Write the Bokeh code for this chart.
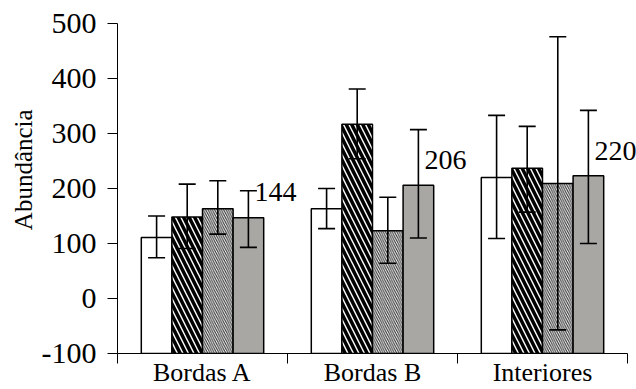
from bokeh.plotting import figure
from bokeh.models import Range1d, FixedTicker, Whisker, TeeHead, ColumnDataSource, Label
from bokeh.embed import file_html
from bokeh.resources import INLINE

categories = ["Bordas A", "Bordas B", "Interiores"]
y_ticks = [-100, 0, 100, 200, 300, 400, 500]
y_title = "Abundância"

s1_mean = [111, 163, 220]
s1_low = [74, 127, 109]
s1_high = [150, 200, 333]

s2_mean = [148, 317, 237]
s2_low = [91, 254, 157]
s2_high = [208, 381, 313]

s3_mean = [163, 123, 209]
s3_low = [117, 64, -57]
s3_high = [214, 184, 476]

s4_mean = [147, 206, 223]
s4_low = [93, 110, 100]
s4_high = [196, 307, 342]

value_labels = ["144", "206", "220"]

series = [
    (s1_mean, s1_low, s1_high, dict(fill_color="white")),
    (s2_mean, s2_low, s2_high, dict(fill_color="white", hatch_pattern="left_diagonal_line",
                                    hatch_color="black", hatch_weight=3.5, hatch_scale=11)),
    (s3_mean, s3_low, s3_high, dict(fill_color="white", hatch_pattern="left_diagonal_line",
                                    hatch_color="#333333", hatch_weight=1.1, hatch_scale=4.5)),
    (s4_mean, s4_low, s4_high, dict(fill_color="#a9a7a4")),
]
offsets = [-0.27, -0.09, 0.09, 0.27]
bar_w = 0.18
Y0, Y1 = -100, 500
NCAT = len(categories)

font = "Times New Roman, Liberation Serif, Tinos, DejaVu Serif, serif"

p = figure(width=636, height=389, output_backend="svg", toolbar_location=None,
           x_range=Range1d(0, NCAT + 0.053), y_range=Range1d(Y0, Y1),
           min_border_left=117, min_border_top=23, min_border_right=0, min_border_bottom=5)
p.background_fill_color = "white"
p.border_fill_color = "white"
p.outline_line_color = None
p.xgrid.visible = False
p.ygrid.visible = False

for (m, lo, hi, style), off in zip(series, offsets):
    xs = [i + 0.5 + off for i in range(NCAT)]
    src = ColumnDataSource(dict(x=xs, top=m, lo=lo, hi=hi))
    p.vbar(x="x", top="top", bottom=Y0, width=bar_w, source=src,
           line_color="black", line_width=1.5, **style)
    w = Whisker(base="x", lower="lo", upper="hi", source=src, dimension="height",
                line_color="black", line_width=1.6, level="overlay",
                upper_head=TeeHead(size=17, line_color="black", line_width=1.6),
                lower_head=TeeHead(size=17, line_color="black", line_width=1.6))
    p.add_layout(w)

for i, (txt, v) in enumerate(zip(value_labels, s4_mean)):
    p.add_layout(Label(x=i + 0.5 + offsets[3], y=v + 46, text=txt, x_offset=6,
                       text_align="left", text_baseline="middle",
                       text_font=font, text_font_size="28px", text_color="black"))

ya = p.yaxis[0]
ya.ticker = FixedTicker(ticks=y_ticks)
ya.major_label_overrides = {t: str(t) for t in y_ticks}
ya.major_label_text_font = font
ya.major_label_text_font_size = "30px"
ya.major_label_text_color = "black"
ya.major_tick_out = 10
ya.major_tick_in = 0
ya.minor_tick_out = 0
ya.minor_tick_in = 0
ya.major_tick_line_color = "black"
ya.axis_line_color = "black"
ya.major_label_standoff = 11
# leading no-break spaces lift the rotated title a little above the frame centre
ya.axis_label = "\u00a0" * 6 + y_title
ya.axis_label_text_font = font
ya.axis_label_text_font_size = "25px"
ya.axis_label_text_font_style = "normal"
ya.axis_label_text_color = "black"
ya.axis_label_standoff = 2

xa = p.xaxis[0]
xa.bounds = (0, NCAT)
xa.ticker = FixedTicker(ticks=[i + 0.5 for i in range(NCAT)], minor_ticks=list(range(NCAT + 1)))
xa.major_label_overrides = {i + 0.5: c for i, c in enumerate(categories)}
xa.major_label_text_font = font
xa.major_label_text_font_size = "26px"
xa.major_label_text_color = "black"
xa.major_tick_out = 0
xa.major_tick_in = 0
xa.minor_tick_out = 10
xa.minor_tick_in = 0
xa.minor_tick_line_color = "black"
xa.axis_line_color = "black"
xa.major_label_standoff = -6

open("out.html", "w").write(file_html(p, INLINE))
